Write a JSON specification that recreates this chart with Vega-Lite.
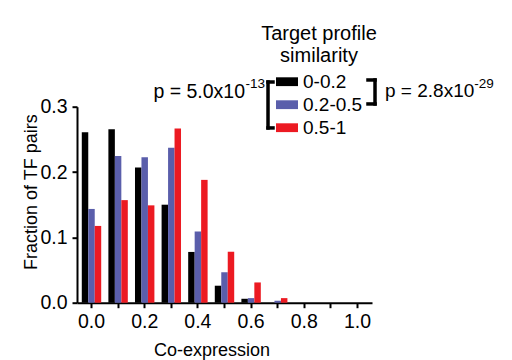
{
  "$schema": "https://vega.github.io/schema/vega-lite/v6.json",
  "width": 295,
  "height": 196,
  "autosize": {"type": "none"},
  "padding": {"left": 77, "top": 106.7, "right": 140, "bottom": 57.3},
  "background": "white",
  "config": {
    "font": "Liberation Sans",
    "view": {"stroke": null},
    "axis": {
      "domainColor": "black",
      "domainWidth": 2,
      "tickColor": "black",
      "tickWidth": 2,
      "tickSize": 5,
      "labelColor": "black",
      "labelFontSize": 19.5,
      "titleColor": "black",
      "titleFontSize": 18,
      "titleFontWeight": "normal",
      "grid": false
    }
  },
  "layer": [
    {
      "data": {
        "values": [
          {"bin": "0.0", "group": "0-0.2", "value": 0.261},
          {"bin": "0.0", "group": "0.2-0.5", "value": 0.1435},
          {"bin": "0.0", "group": "0.5-1", "value": 0.1175},
          {"bin": "0.1", "group": "0-0.2", "value": 0.2655},
          {"bin": "0.1", "group": "0.2-0.5", "value": 0.2246},
          {"bin": "0.1", "group": "0.5-1", "value": 0.157},
          {"bin": "0.2", "group": "0-0.2", "value": 0.207},
          {"bin": "0.2", "group": "0.2-0.5", "value": 0.2227},
          {"bin": "0.2", "group": "0.5-1", "value": 0.149},
          {"bin": "0.3", "group": "0-0.2", "value": 0.150},
          {"bin": "0.3", "group": "0.2-0.5", "value": 0.237},
          {"bin": "0.3", "group": "0.5-1", "value": 0.2665},
          {"bin": "0.4", "group": "0-0.2", "value": 0.0777},
          {"bin": "0.4", "group": "0.2-0.5", "value": 0.109},
          {"bin": "0.4", "group": "0.5-1", "value": 0.188},
          {"bin": "0.5", "group": "0-0.2", "value": 0.026},
          {"bin": "0.5", "group": "0.2-0.5", "value": 0.0466},
          {"bin": "0.5", "group": "0.5-1", "value": 0.078},
          {"bin": "0.6", "group": "0-0.2", "value": 0.006},
          {"bin": "0.6", "group": "0.2-0.5", "value": 0.007},
          {"bin": "0.6", "group": "0.5-1", "value": 0.031},
          {"bin": "0.7", "group": "0-0.2", "value": 0.0},
          {"bin": "0.7", "group": "0.2-0.5", "value": 0.003},
          {"bin": "0.7", "group": "0.5-1", "value": 0.007},
          {"bin": "0.8", "group": "0-0.2", "value": 0},
          {"bin": "0.8", "group": "0.2-0.5", "value": 0},
          {"bin": "0.8", "group": "0.5-1", "value": 0},
          {"bin": "0.9", "group": "0-0.2", "value": 0},
          {"bin": "0.9", "group": "0.2-0.5", "value": 0},
          {"bin": "0.9", "group": "0.5-1", "value": 0},
          {"bin": "1.0", "group": "0-0.2", "value": 0},
          {"bin": "1.0", "group": "0.2-0.5", "value": 0},
          {"bin": "1.0", "group": "0.5-1", "value": 0}
        ]
      },
      "mark": {"type": "bar"},
      "encoding": {
        "x": {
          "field": "bin",
          "type": "ordinal",
          "scale": {"paddingInner": 0.27, "paddingOuter": 0.18},
          "axis": {
            "title": "Co-expression",
            "labelAngle": 0,
            "labelPadding": 5,
            "labelExpr": "indexof(['0.0','0.2','0.4','0.6','0.8','1.0'], datum.value) >= 0 ? datum.value : ''",
            "titleX": 134.5,
            "titleY": 52.3,
            "titleBaseline": "alphabetic",
            "titleAnchor": null,
            "titleAlign": "center"
          }
        },
        "xOffset": {
          "field": "group",
          "type": "nominal",
          "scale": {"domain": ["0-0.2", "0.2-0.5", "0.5-1"]}
        },
        "y": {
          "field": "value",
          "type": "quantitative",
          "scale": {"domain": [0, 0.3]},
          "axis": {
            "values": [0, 0.1, 0.2, 0.3],
            "format": ".1f",
            "title": "Fraction of TF pairs",
            "labelPadding": 5,
            "titleX": -41,
            "titleY": 85,
            "titleBaseline": "alphabetic",
            "titleAlign": "center",
            "titleAngle": -90
          }
        },
        "color": {
          "field": "group",
          "type": "nominal",
          "scale": {
            "domain": ["0-0.2", "0.2-0.5", "0.5-1"],
            "range": ["#000000", "#5a5eab", "#ec1a22"]
          },
          "legend": {
            "title": ["Target profile", "similarity"],
            "orient": "none",
            "legendX": 184,
            "legendY": -83,
            "titleAnchor": "middle",
            "titleAlign": "center",
            "titleFontSize": 20,
            "titleFontWeight": "normal",
            "titleColor": "black",
            "titleLineHeight": 22,
            "titlePadding": 5,
            "labelFontSize": 19,
            "labelColor": "black",
            "labelOffset": 5,
            "symbolType": "M-1,-0.4H1V0.4H-1Z",
            "symbolSize": 484,
            "symbolStrokeWidth": 0,
            "symbolOpacity": 1,
            "rowPadding": 2
          }
        }
      }
    },
    {
      "data": {"values": [{}]},
      "layer": [
        {
          "mark": {"type": "text", "text": "p = 5.0x10", "align": "right", "baseline": "alphabetic", "fontSize": 19.5, "color": "black"},
          "encoding": {
            "x": {"datum": 0.5695, "type": "quantitative", "scale": {"domain": [0, 1]}, "axis": null},
            "y": {"datum": 0.3133, "type": "quantitative", "scale": {"domain": [0, 0.3]}, "axis": null}
          }
        },
        {
          "mark": {"type": "text", "text": "-13", "align": "left", "baseline": "alphabetic", "fontSize": 13.5, "color": "black"},
          "encoding": {
            "x": {"datum": 0.571, "type": "quantitative", "scale": {"domain": [0, 1]}, "axis": null},
            "y": {"datum": 0.3286, "type": "quantitative", "scale": {"domain": [0, 0.3]}, "axis": null}
          }
        },
        {
          "mark": {"type": "text", "text": "p = 2.8x10", "align": "left", "baseline": "alphabetic", "fontSize": 19, "color": "black"},
          "encoding": {
            "x": {"datum": 1.0441, "type": "quantitative", "scale": {"domain": [0, 1]}, "axis": null},
            "y": {"datum": 0.3149, "type": "quantitative", "scale": {"domain": [0, 0.3]}, "axis": null}
          }
        },
        {
          "mark": {"type": "text", "text": "-29", "align": "left", "baseline": "alphabetic", "fontSize": 13.5, "color": "black"},
          "encoding": {
            "x": {"datum": 1.347, "type": "quantitative", "scale": {"domain": [0, 1]}, "axis": null},
            "y": {"datum": 0.3286, "type": "quantitative", "scale": {"domain": [0, 0.3]}, "axis": null}
          }
        },
        {
          "mark": {"type": "rule", "strokeWidth": 3.5, "color": "black", "strokeCap": "square"},
          "encoding": {
            "x": {"datum": 0.6475, "type": "quantitative", "scale": {"domain": [0, 1]}, "axis": null},
            "y": {"datum": 0.3378, "type": "quantitative", "scale": {"domain": [0, 0.3]}, "axis": null},
            "y2": {"datum": 0.2675}
          }
        },
        {
          "mark": {"type": "rule", "strokeWidth": 3.5, "color": "black", "strokeCap": "square"},
          "encoding": {
            "x": {"datum": 0.6475, "type": "quantitative", "scale": {"domain": [0, 1]}, "axis": null},
            "x2": {"datum": 0.6644},
            "y": {"datum": 0.3378, "type": "quantitative", "scale": {"domain": [0, 0.3]}, "axis": null}
          }
        },
        {
          "mark": {"type": "rule", "strokeWidth": 3.5, "color": "black", "strokeCap": "square"},
          "encoding": {
            "x": {"datum": 0.6475, "type": "quantitative", "scale": {"domain": [0, 1]}, "axis": null},
            "x2": {"datum": 0.6644},
            "y": {"datum": 0.2675, "type": "quantitative", "scale": {"domain": [0, 0.3]}, "axis": null}
          }
        },
        {
          "mark": {"type": "rule", "strokeWidth": 3.5, "color": "black", "strokeCap": "square"},
          "encoding": {
            "x": {"datum": 1.0102, "type": "quantitative", "scale": {"domain": [0, 1]}, "axis": null},
            "y": {"datum": 0.3409, "type": "quantitative", "scale": {"domain": [0, 0.3]}, "axis": null},
            "y2": {"datum": 0.3042}
          }
        },
        {
          "mark": {"type": "rule", "strokeWidth": 3.5, "color": "black", "strokeCap": "square"},
          "encoding": {
            "x": {"datum": 0.9864, "type": "quantitative", "scale": {"domain": [0, 1]}, "axis": null},
            "x2": {"datum": 1.0102},
            "y": {"datum": 0.3409, "type": "quantitative", "scale": {"domain": [0, 0.3]}, "axis": null}
          }
        },
        {
          "mark": {"type": "rule", "strokeWidth": 3.5, "color": "black", "strokeCap": "square"},
          "encoding": {
            "x": {"datum": 0.9864, "type": "quantitative", "scale": {"domain": [0, 1]}, "axis": null},
            "x2": {"datum": 1.0102},
            "y": {"datum": 0.3042, "type": "quantitative", "scale": {"domain": [0, 0.3]}, "axis": null}
          }
        }
      ]
    }
  ],
  "resolve": {"scale": {"x": "independent", "y": "independent"}, "axis": {"x": "independent", "y": "independent"}}
}
